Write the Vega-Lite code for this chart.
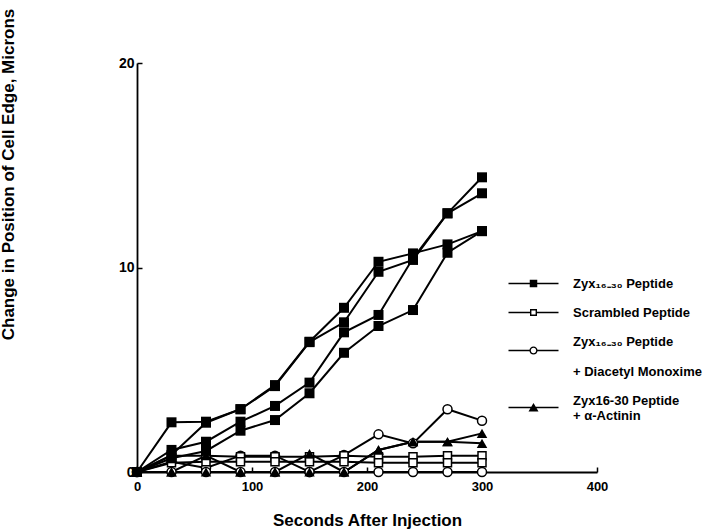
{
  "$schema": "https://vega.github.io/schema/vega-lite/v6.json",
  "width": 460,
  "height": 409,
  "autosize": {"type": "none"},
  "padding": {"left": 137, "top": 63, "right": 123, "bottom": 60},
  "background": "white",
  "config": {"view": {"stroke": null}, "font": "Liberation Sans"},
  "data": {"values": [
    {"s":"A","g":"Zyx16-30 Peptide","t":0,"v":0},{"s":"A","g":"Zyx16-30 Peptide","t":30,"v":2.43},{"s":"A","g":"Zyx16-30 Peptide","t":60,"v":2.46},{"s":"A","g":"Zyx16-30 Peptide","t":90,"v":3.07},{"s":"A","g":"Zyx16-30 Peptide","t":120,"v":4.25},{"s":"A","g":"Zyx16-30 Peptide","t":150,"v":6.37},{"s":"A","g":"Zyx16-30 Peptide","t":180,"v":8.03},{"s":"A","g":"Zyx16-30 Peptide","t":210,"v":10.28},{"s":"A","g":"Zyx16-30 Peptide","t":240,"v":10.69},{"s":"A","g":"Zyx16-30 Peptide","t":270,"v":11.13},{"s":"A","g":"Zyx16-30 Peptide","t":300,"v":11.78},
    {"s":"B","g":"Zyx16-30 Peptide","t":0,"v":0},{"s":"B","g":"Zyx16-30 Peptide","t":30,"v":0.83},{"s":"B","g":"Zyx16-30 Peptide","t":60,"v":2.41},{"s":"B","g":"Zyx16-30 Peptide","t":90,"v":3.07},{"s":"B","g":"Zyx16-30 Peptide","t":120,"v":4.2},{"s":"B","g":"Zyx16-30 Peptide","t":150,"v":6.35},{"s":"B","g":"Zyx16-30 Peptide","t":180,"v":7.32},{"s":"B","g":"Zyx16-30 Peptide","t":210,"v":9.79},{"s":"B","g":"Zyx16-30 Peptide","t":240,"v":10.37},{"s":"B","g":"Zyx16-30 Peptide","t":270,"v":12.65},{"s":"B","g":"Zyx16-30 Peptide","t":300,"v":14.41},
    {"s":"C","g":"Zyx16-30 Peptide","t":0,"v":0},{"s":"C","g":"Zyx16-30 Peptide","t":30,"v":1.08},{"s":"C","g":"Zyx16-30 Peptide","t":60,"v":1.48},{"s":"C","g":"Zyx16-30 Peptide","t":90,"v":2.46},{"s":"C","g":"Zyx16-30 Peptide","t":120,"v":3.23},{"s":"C","g":"Zyx16-30 Peptide","t":150,"v":4.37},{"s":"C","g":"Zyx16-30 Peptide","t":180,"v":6.83},{"s":"C","g":"Zyx16-30 Peptide","t":210,"v":7.68},{"s":"C","g":"Zyx16-30 Peptide","t":240,"v":10.45},{"s":"C","g":"Zyx16-30 Peptide","t":270,"v":12.65},{"s":"C","g":"Zyx16-30 Peptide","t":300,"v":13.63},
    {"s":"D","g":"Zyx16-30 Peptide","t":0,"v":0},{"s":"D","g":"Zyx16-30 Peptide","t":30,"v":0.67},{"s":"D","g":"Zyx16-30 Peptide","t":60,"v":1.03},{"s":"D","g":"Zyx16-30 Peptide","t":90,"v":2.02},{"s":"D","g":"Zyx16-30 Peptide","t":120,"v":2.54},{"s":"D","g":"Zyx16-30 Peptide","t":150,"v":3.85},{"s":"D","g":"Zyx16-30 Peptide","t":180,"v":5.83},{"s":"D","g":"Zyx16-30 Peptide","t":210,"v":7.14},{"s":"D","g":"Zyx16-30 Peptide","t":240,"v":7.92},{"s":"D","g":"Zyx16-30 Peptide","t":270,"v":10.72},{"s":"D","g":"Zyx16-30 Peptide","t":300,"v":11.78},
    {"s":"S1","g":"Scrambled Peptide","t":0,"v":0},{"s":"S1","g":"Scrambled Peptide","t":30,"v":0.8},{"s":"S1","g":"Scrambled Peptide","t":60,"v":0.8},{"s":"S1","g":"Scrambled Peptide","t":90,"v":0.75},{"s":"S1","g":"Scrambled Peptide","t":120,"v":0.75},{"s":"S1","g":"Scrambled Peptide","t":150,"v":0.75},{"s":"S1","g":"Scrambled Peptide","t":180,"v":0.8},{"s":"S1","g":"Scrambled Peptide","t":210,"v":0.75},{"s":"S1","g":"Scrambled Peptide","t":240,"v":0.75},{"s":"S1","g":"Scrambled Peptide","t":270,"v":0.8},{"s":"S1","g":"Scrambled Peptide","t":300,"v":0.8},
    {"s":"S2","g":"Scrambled Peptide","t":0,"v":0},{"s":"S2","g":"Scrambled Peptide","t":30,"v":0.45},{"s":"S2","g":"Scrambled Peptide","t":60,"v":0.5},{"s":"S2","g":"Scrambled Peptide","t":90,"v":0.5},{"s":"S2","g":"Scrambled Peptide","t":120,"v":0.5},{"s":"S2","g":"Scrambled Peptide","t":150,"v":0.5},{"s":"S2","g":"Scrambled Peptide","t":180,"v":0.5},{"s":"S2","g":"Scrambled Peptide","t":210,"v":0.45},{"s":"S2","g":"Scrambled Peptide","t":240,"v":0.45},{"s":"S2","g":"Scrambled Peptide","t":270,"v":0.45},{"s":"S2","g":"Scrambled Peptide","t":300,"v":0.45},
    {"s":"M1","g":"Zyx16-30 Peptide + Diacetyl Monoxime","t":0,"v":0},{"s":"M1","g":"Zyx16-30 Peptide + Diacetyl Monoxime","t":30,"v":0.5},{"s":"M1","g":"Zyx16-30 Peptide + Diacetyl Monoxime","t":60,"v":0.2},{"s":"M1","g":"Zyx16-30 Peptide + Diacetyl Monoxime","t":90,"v":0.8},{"s":"M1","g":"Zyx16-30 Peptide + Diacetyl Monoxime","t":120,"v":0.8},{"s":"M1","g":"Zyx16-30 Peptide + Diacetyl Monoxime","t":150,"v":0},{"s":"M1","g":"Zyx16-30 Peptide + Diacetyl Monoxime","t":180,"v":0.83},{"s":"M1","g":"Zyx16-30 Peptide + Diacetyl Monoxime","t":210,"v":1.84},{"s":"M1","g":"Zyx16-30 Peptide + Diacetyl Monoxime","t":240,"v":1.4},{"s":"M1","g":"Zyx16-30 Peptide + Diacetyl Monoxime","t":270,"v":3.07},{"s":"M1","g":"Zyx16-30 Peptide + Diacetyl Monoxime","t":300,"v":2.51},
    {"s":"M2","g":"Zyx16-30 Peptide + Diacetyl Monoxime","t":0,"v":0},{"s":"M2","g":"Zyx16-30 Peptide + Diacetyl Monoxime","t":30,"v":0},{"s":"M2","g":"Zyx16-30 Peptide + Diacetyl Monoxime","t":60,"v":0},{"s":"M2","g":"Zyx16-30 Peptide + Diacetyl Monoxime","t":90,"v":0},{"s":"M2","g":"Zyx16-30 Peptide + Diacetyl Monoxime","t":120,"v":0},{"s":"M2","g":"Zyx16-30 Peptide + Diacetyl Monoxime","t":150,"v":0},{"s":"M2","g":"Zyx16-30 Peptide + Diacetyl Monoxime","t":180,"v":0},{"s":"M2","g":"Zyx16-30 Peptide + Diacetyl Monoxime","t":210,"v":0},{"s":"M2","g":"Zyx16-30 Peptide + Diacetyl Monoxime","t":240,"v":0},{"s":"M2","g":"Zyx16-30 Peptide + Diacetyl Monoxime","t":270,"v":0},{"s":"M2","g":"Zyx16-30 Peptide + Diacetyl Monoxime","t":300,"v":0},
    {"s":"T1","g":"Zyx16-30 Peptide + α-Actinin","t":0,"v":0},{"s":"T1","g":"Zyx16-30 Peptide + α-Actinin","t":30,"v":0},{"s":"T1","g":"Zyx16-30 Peptide + α-Actinin","t":60,"v":0.8},{"s":"T1","g":"Zyx16-30 Peptide + α-Actinin","t":90,"v":0},{"s":"T1","g":"Zyx16-30 Peptide + α-Actinin","t":120,"v":0},{"s":"T1","g":"Zyx16-30 Peptide + α-Actinin","t":150,"v":0.9},{"s":"T1","g":"Zyx16-30 Peptide + α-Actinin","t":180,"v":0},{"s":"T1","g":"Zyx16-30 Peptide + α-Actinin","t":210,"v":1.08},{"s":"T1","g":"Zyx16-30 Peptide + α-Actinin","t":240,"v":1.48},{"s":"T1","g":"Zyx16-30 Peptide + α-Actinin","t":270,"v":1.48},{"s":"T1","g":"Zyx16-30 Peptide + α-Actinin","t":300,"v":1.89},
    {"s":"T2","g":"Zyx16-30 Peptide + α-Actinin","t":0,"v":0},{"s":"T2","g":"Zyx16-30 Peptide + α-Actinin","t":30,"v":0},{"s":"T2","g":"Zyx16-30 Peptide + α-Actinin","t":60,"v":0},{"s":"T2","g":"Zyx16-30 Peptide + α-Actinin","t":90,"v":0},{"s":"T2","g":"Zyx16-30 Peptide + α-Actinin","t":120,"v":0},{"s":"T2","g":"Zyx16-30 Peptide + α-Actinin","t":150,"v":0},{"s":"T2","g":"Zyx16-30 Peptide + α-Actinin","t":180,"v":0},{"s":"T2","g":"Zyx16-30 Peptide + α-Actinin","t":210,"v":1.08},{"s":"T2","g":"Zyx16-30 Peptide + α-Actinin","t":240,"v":1.48},{"s":"T2","g":"Zyx16-30 Peptide + α-Actinin","t":270,"v":1.48},{"s":"T2","g":"Zyx16-30 Peptide + α-Actinin","t":300,"v":1.4}
  ]},
  "encoding": {
    "x": {"field": "t", "type": "quantitative", "scale": {"domain": [0, 400], "nice": false},
      "axis": {"title": "Seconds After Injection", "values": [0, 100, 200, 300, 400], "grid": false,
        "domainColor": "black", "domainWidth": 1.8, "ticks": true, "tickSize": -5, "tickColor": "black", "tickWidth": 1.5,
        "labelPadding": 13, "labelFontSize": 13, "labelFontWeight": "bold", "labelColor": "black", "labelFlush": false,
        "titleFontSize": 17, "titleFontWeight": "bold", "titleColor": "black", "titleY": 40}},
    "y": {"field": "v", "type": "quantitative", "scale": {"domain": [0, 20], "nice": false},
      "axis": {"title": "Change in Position of Cell Edge, Microns", "values": [0, 10, 20], "grid": false,
        "domainColor": "black", "domainWidth": 1.8, "ticks": true, "tickSize": -5, "tickColor": "black", "tickWidth": 1.5,
        "labelPadding": 8, "labelFontSize": 14, "labelFontWeight": "bold", "labelColor": "black", "labelFlush": false,
        "titleFontSize": 17, "titleFontWeight": "bold", "titleColor": "black", "titleX": -120, "titleY": 111}}
  },
  "layer": [
    {"mark": {"type": "line", "color": "black", "strokeWidth": 2}, "encoding": {"detail": {"field": "s"}}},
    {"transform": [{"filter": "datum.g == 'Zyx16-30 Peptide + Diacetyl Monoxime'"}],
      "mark": {"type": "point", "shape": "circle", "fill": "white", "stroke": "black", "strokeWidth": 1.5, "size": 81, "opacity": 1, "filled": false}},
    {"transform": [{"filter": "datum.g == 'Scrambled Peptide'"}],
      "mark": {"type": "point", "shape": "square", "fill": "white", "stroke": "black", "strokeWidth": 1.5, "size": 64, "opacity": 1, "filled": false}},
    {"transform": [{"filter": "datum.g == 'Zyx16-30 Peptide'"}],
      "mark": {"type": "point", "shape": "square", "filled": true, "color": "black", "size": 100, "opacity": 1}},
    {"transform": [{"filter": "datum.g == 'Zyx16-30 Peptide + α-Actinin'"}],
      "mark": {"type": "point", "shape": "triangle-up", "filled": true, "color": "black", "size": 110, "opacity": 1}},
    {"transform": [{"filter": "false"}],
      "mark": {"type": "point", "filled": true, "color": "black", "opacity": 1},
      "encoding": {
        "shape": {"field": "g", "type": "nominal",
          "scale": {"domain": ["Zyx16-30 Peptide", "Scrambled Peptide", "Zyx16-30 Peptide + Diacetyl Monoxime", "Zyx16-30 Peptide + α-Actinin"],
            "range": [
              "M-5,-0.15H5V0.15H-5ZM-0.75,-0.75H0.75V0.75H-0.75Z",
              "M-5,-0.15H-0.7V0.15H-5ZM0.7,-0.15H5V0.15H0.7ZM-0.7,-0.7H0.7V0.7H-0.7ZM-0.42,-0.42V0.42H0.42V-0.42Z",
              "M-5,1.65H-0.8V1.95H-5ZM0.8,1.65H5V1.95H0.8ZM-0.82,1.8A0.82,0.82,0,1,1,0.82,1.8A0.82,0.82,0,1,1,-0.82,1.8ZM-0.54,1.8A0.54,0.54,0,1,0,0.54,1.8A0.54,0.54,0,1,0,-0.54,1.8Z",
              "M-5,1.25H5V1.55H-5ZM0,0.5L1,2.2H-1Z"]},
          "legend": {"title": null, "orient": "none", "legendX": 390, "legendY": 214, "padding": 0, "symbolSize": 100,
            "symbolStrokeWidth": 0, "labelFontSize": 13, "labelFontWeight": "bold", "labelColor": "black",
            "labelOffset": 33, "rowPadding": 15, "labelLimit": 400,
            "labelExpr": "datum.label == 'Zyx16-30 Peptide' ? 'Zyx₁₆₋₃₀ Peptide' : datum.label == 'Scrambled Peptide' ? 'Scrambled Peptide' : datum.label == 'Zyx16-30 Peptide + Diacetyl Monoxime' ? ['Zyx₁₆₋₃₀ Peptide', '\u2800', '+ Diacetyl Monoxime'] : ['Zyx16-30 Peptide', '+ α-Actinin']"}}
      }}
  ]
}
